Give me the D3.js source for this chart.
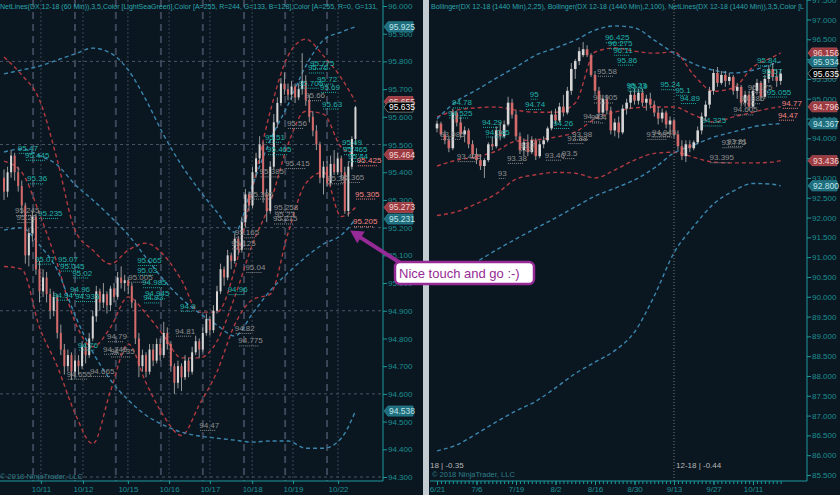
<!DOCTYPE html>
<html><head><meta charset="utf-8">
<script src="https://cdn.jsdelivr.net/npm/d3@7"></script>
<style>
html,body{margin:0;padding:0;background:#0a1620;overflow:hidden;}
svg{display:block;}
text{font-family:"Liberation Sans",Arial,sans-serif;}
</style></head><body>
<svg id="chart" width="840" height="495"></svg>
<script>
// ---------------- DATA ----------------
// Left panel: DX 12-18 (60 Min) candles [open, high, low, close]
const leftCandles = [
[95.38,95.41,95.30,95.33],[95.33,95.42,95.31,95.40],[95.40,95.48,95.38,95.46],[95.46,95.47,95.37,95.40],[95.40,95.42,95.33,95.35],
[95.35,95.37,95.25,95.28],[95.28,95.29,95.07,95.10],[95.10,95.20,95.06,95.18],[95.18,95.26,95.15,95.24],[95.24,95.25,95.03,95.05],
[95.05,95.08,94.93,94.97],[94.97,95.05,94.95,95.02],[95.02,95.04,94.93,94.96],[94.96,94.98,94.87,94.90],[94.90,94.97,94.88,94.95],
[94.95,94.96,94.80,94.82],[94.82,94.85,94.74,94.76],[94.76,94.78,94.67,94.70],[94.70,94.76,94.68,94.74],[94.74,94.75,94.65,94.68],
[94.68,94.74,94.66,94.72],[94.72,94.74,94.67,94.70],[94.70,94.79,94.69,94.77],[94.77,94.78,94.71,94.74],[94.74,94.82,94.73,94.80],
[94.80,94.90,94.79,94.88],[94.88,94.99,94.86,94.97],[94.97,94.98,94.90,94.93],[94.93,95.00,94.91,94.96],[94.96,94.97,94.89,94.92],
[94.92,94.99,94.90,94.98],[94.98,95.00,94.93,94.95],[94.95,95.04,94.94,95.02],[95.02,95.06,94.98,95.00],[95.00,95.03,94.97,95.01],
[95.01,95.02,94.96,94.99],[94.99,95.00,94.91,94.93],[94.93,94.94,94.78,94.80],[94.80,94.82,94.66,94.70],[94.70,94.76,94.68,94.74],
[94.74,94.75,94.66,94.68],[94.68,94.78,94.67,94.76],[94.76,94.78,94.70,94.72],[94.72,94.80,94.71,94.78],[94.78,94.80,94.72,94.74],
[94.74,94.86,94.73,94.82],[94.82,94.84,94.76,94.78],[94.78,94.79,94.68,94.70],[94.70,94.71,94.60,94.64],[94.64,94.72,94.62,94.70],
[94.70,94.71,94.61,94.66],[94.66,94.74,94.65,94.72],[94.72,94.73,94.66,94.68],[94.68,94.77,94.67,94.75],[94.75,94.81,94.74,94.79],
[94.79,94.80,94.73,94.76],[94.76,94.84,94.75,94.82],[94.82,94.89,94.81,94.87],[94.87,94.88,94.81,94.83],[94.83,94.92,94.82,94.90],
[94.90,94.99,94.89,94.97],[94.97,95.07,94.96,95.05],[95.05,95.06,94.99,95.02],[95.02,95.12,95.01,95.10],[95.10,95.11,95.05,95.08],
[95.08,95.18,95.07,95.16],[95.16,95.17,95.10,95.12],[95.12,95.24,95.11,95.22],[95.22,95.34,95.20,95.32],[95.32,95.33,95.26,95.28],
[95.28,95.42,95.27,95.40],[95.40,95.47,95.38,95.45],[95.45,95.53,95.43,95.50],[95.50,95.51,95.29,95.32],[95.32,95.34,95.22,95.26],
[95.26,95.44,95.25,95.42],[95.42,95.61,95.41,95.58],[95.58,95.67,95.56,95.65],[95.65,95.74,95.64,95.72],[95.72,95.76,95.68,95.70],
[95.70,95.72,95.66,95.68],[95.68,95.73,95.66,95.71],[95.71,95.72,95.65,95.67],[95.67,95.72,95.66,95.70],[95.70,95.83,95.68,95.73],
[95.73,95.75,95.64,95.66],[95.66,95.68,95.58,95.60],[95.60,95.62,95.53,95.55],[95.55,95.57,95.48,95.50],[95.50,95.51,95.36,95.38],
[95.38,95.44,95.32,95.42],[95.42,95.44,95.35,95.36],[95.36,95.46,95.35,95.43],[95.43,95.48,95.39,95.40],[95.40,95.47,95.39,95.45],
[95.45,95.46,95.38,95.40],[95.40,95.42,95.25,95.26],[95.26,95.44,95.24,95.42],[95.42,95.53,95.41,95.52],[95.52,95.64,95.50,95.635]
];
const leftBandIdx   = [0,5,10,15,20,25,30,35,40,45,50,55,60,65,70,75,80,85,90,95,99];
const leftRedUpper  = [95.816,95.751,95.661,95.444,95.191,95.119,95.069,95.119,95.144,95.101,95.011,94.895,94.895,95.050,95.340,95.620,95.820,95.880,95.820,95.740,95.655];
const leftRedMid    = [95.440,95.400,95.250,95.070,94.860,94.770,94.840,94.950,94.890,94.810,94.730,94.730,94.790,94.950,95.140,95.290,95.500,95.620,95.610,95.490,95.464];
const leftRedLower  = [95.060,95.050,94.840,94.700,94.530,94.420,94.610,94.780,94.640,94.520,94.450,94.560,94.680,94.850,94.940,94.960,95.180,95.360,95.400,95.240,95.273];
const leftBlueUpper = [95.755,95.769,95.783,95.805,95.827,95.848,95.830,95.769,95.661,95.534,95.426,95.336,95.256,95.184,95.354,95.516,95.643,95.783,95.877,95.906,95.925];
const leftBlueMid   = [95.473,95.484,95.460,95.426,95.356,95.300,95.240,95.174,95.092,95.011,94.944,94.892,94.848,94.809,94.890,94.973,95.037,95.094,95.141,95.173,95.231];
const leftBlueLower = [95.191,95.199,95.137,95.047,94.884,94.751,94.650,94.578,94.523,94.487,94.462,94.448,94.440,94.433,94.426,94.430,94.430,94.404,94.404,94.440,94.538];
const leftSessionBreaks = [8.2,20,31.5,44.2,56,67.6,79.2,91];
const leftDayIdx    = [10.4,22.25,34.9,46.5,58,69.9,81.4,94.1];
const leftDayLabels = ["10/11","10/12","10/15","10/16","10/17","10/18","10/19","10/22"];
const leftGridPrices = [95.8,95.5,95.2,94.9,94.6,94.3];
const leftLabels = [
[3.9,"95.47","t"],[5.9,"95.445","t"],[6.5,"95.36","t"],[9.6,"95.235","t"],[3.1,"95.245","g"],[3.5,"95.22","g"],
[8.7,"95.07","t"],[15.2,"95.07","t"],[15.8,"95.045","t"],[19.2,"95.02","t"],[18.6,"94.96","t"],[20,"94.935","t"],[13.8,"94.94","t"],
[37.5,"95.065","t"],[37.5,"95.03","t"],[35,"95.005","g"],[38.9,"94.985","t"],[39.7,"94.945","t"],[39.2,"94.93","t"],
[49.6,"94.9","t"],[48.2,"94.81","g"],[29,"94.79","g"],[27.9,"94.745","g"],[29.9,"94.735","g"],[20.8,"94.76","t"],[24.2,"94.665","g"],[17.7,"94.655","g"],
[55,"94.47","g"],[64,"95.125","g"],[68,"95.04","g"],[63,"94.96","t"],[65,"94.82","g"],[66,"94.775","g"],
[86.2,"95.775","t"],[85.6,"95.76","t"],[88.2,"95.72","t"],[89,"95.69","t"],[83,"95.705","t"],[84.8,"95.66","g"],[89.6,"95.63","t"],
[79.7,"95.56","g"],[73.5,"95.51","t"],[74.1,"95.465","t"],[79.2,"95.415","g"],[72,"95.385","g"],[69,"95.305","g"],[76,"95.258","g"],
[76.3,"95.23","g"],[75.8,"95.215","g"],[65,"95.165","g"],[95.2,"95.49","t"],[95.5,"95.465","t"],[96.9,"95.44","t"],[99.4,"95.425","s"],
[94.6,"95.365","g"],[91,"95.36","g"],[98.9,"95.305","s"],[98.3,"95.205","s"]
];
const leftTagPrices = [95.925,95.655,95.464,95.273,95.231,94.538,95.635];
const leftTagKinds  = ["b","r","r","r","b","b","k"];

// Right panel: DX 12-18 (1440 Min) daily candles [open, high, low, close]
const rightCandles = [
[94.25,94.45,94.15,94.37],[94.37,94.42,94.05,94.10],[94.10,94.20,93.85,93.95],[93.95,94.05,93.65,93.75],[93.75,94.75,93.70,94.65],
[94.65,94.70,94.30,94.40],[94.40,94.55,94.00,94.10],[94.10,94.30,93.90,94.20],[94.20,94.25,93.75,93.85],[93.85,93.95,93.50,93.60],
[93.60,93.75,93.35,93.45],[93.45,93.60,93.20,93.30],[93.30,93.50,93.00,93.45],[93.45,93.90,93.40,93.85],[93.85,94.05,93.70,93.80],
[93.80,94.30,93.75,94.20],[94.20,94.40,93.95,94.05],[94.05,94.45,94.00,94.35],[94.35,95.05,94.30,94.90],[94.90,95.00,94.50,94.60],
[94.60,94.70,93.95,94.05],[94.05,94.15,93.60,93.70],[93.70,94.00,93.55,93.90],[93.90,94.10,93.55,93.65],[93.65,94.05,93.60,93.95],
[93.95,94.00,93.45,93.55],[93.55,93.95,93.50,93.85],[93.85,94.05,93.75,93.95],[93.95,94.30,93.90,94.25],[94.25,94.70,94.20,94.60],
[94.60,94.75,94.35,94.45],[94.45,94.90,94.40,94.80],[94.80,95.10,94.55,94.65],[94.65,95.30,94.60,95.20],[95.20,95.90,95.10,95.75],
[95.75,96.00,95.50,95.95],[95.95,96.30,95.85,96.20],[96.10,96.43,96.05,96.25],[96.25,96.35,96.05,96.10],[96.10,96.15,95.55,95.60],
[95.60,95.70,95.10,95.20],[95.20,95.30,94.55,94.65],[94.65,95.10,94.55,95.00],[95.00,95.10,94.60,94.70],[94.70,94.80,94.10,94.20],
[94.20,94.50,94.05,94.40],[94.40,94.55,94.00,94.15],[94.15,94.85,94.10,94.75],[94.75,95.00,94.60,94.90],[94.90,95.20,94.75,95.10],
[95.10,95.25,94.85,94.95],[94.95,95.25,94.85,95.15],[95.15,95.25,94.80,94.90],[94.90,95.10,94.70,95.00],[95.00,95.15,94.75,94.85],
[94.85,94.95,94.55,94.65],[94.65,94.80,94.35,94.50],[94.50,94.75,94.40,94.65],[94.65,94.70,94.25,94.35],[94.35,94.55,94.15,94.45],
[94.45,94.50,94.00,94.10],[94.10,94.20,93.70,93.80],[93.80,93.95,93.45,93.55],[93.55,93.95,93.40,93.85],[93.85,93.95,93.65,93.75],
[93.75,93.95,93.70,93.90],[93.90,94.30,93.85,94.20],[94.20,94.65,94.10,94.55],[94.55,94.95,94.45,94.85],[94.85,95.30,94.75,95.20],
[95.20,95.75,95.10,95.65],[95.65,95.80,95.30,95.40],[95.40,95.70,95.35,95.60],[95.60,95.70,95.30,95.45],[95.45,95.65,95.35,95.55],
[95.55,95.60,95.10,95.20],[95.20,95.40,95.00,95.30],[95.30,95.35,94.80,94.90],[94.90,95.20,94.80,95.10],[95.10,95.20,94.70,94.80],
[94.80,95.30,94.75,95.20],[95.20,95.50,95.10,95.40],[95.40,95.45,94.95,95.05],[95.05,95.60,95.00,95.50],[95.50,95.85,95.40,95.75],
[95.75,95.90,95.45,95.55],[95.55,95.75,95.30,95.45],[95.45,95.75,95.35,95.635]
];
const rightBandIdx   = [0,5,10,15,20,25,30,35,40,45,50,55,60,65,70,75,80,85,87];
const rightBlueUpper = [94.49,94.94,95.22,95.52,95.80,96.10,96.28,96.48,96.73,96.84,96.79,96.48,96.15,95.88,95.72,95.65,95.72,95.88,95.934];
const rightBlueMid   = [90.30,90.60,90.88,91.18,91.46,91.73,91.99,92.27,92.54,92.74,92.95,93.25,93.63,93.83,94.03,94.16,94.29,94.36,94.367];
const rightBlueLower = [86.11,86.26,86.54,86.84,87.12,87.36,87.70,88.06,88.35,88.64,89.11,90.02,91.11,91.78,92.34,92.67,92.86,92.84,92.80];
const rightRedUpper  = [94.54,94.71,94.77,94.79,94.71,94.66,94.66,94.89,96.18,96.28,96.20,96.15,96.18,95.60,95.19,95.27,95.80,96.05,96.156];
const rightRedMid    = [93.30,93.45,93.53,93.68,93.93,93.96,94.03,94.16,94.49,94.66,94.77,94.79,94.79,94.59,94.41,94.54,94.66,94.77,94.796];
const rightRedLower  = [92.05,92.15,92.35,92.60,92.97,93.08,93.14,93.12,93.00,93.20,93.45,93.62,93.65,93.52,93.40,93.38,93.38,93.40,93.436];
const rightDateIdx    = [0,10,20,30,40,50,60,70,80];
const rightDateLabels = ["6/21","7/6","7/19","8/2","8/16","8/30","9/13","9/27","10/11"];
const rightMarkerIdx  = 60;
const rightLabels = [
[42.5,"96.425","t"],[43.3,"96.275","t"],[44.6,"96.11","t"],[45.6,"95.86","t"],[40.5,"95.58","g"],[48,"95.23","t"],[48.3,"95.19","t"],
[56.5,"95.24","t"],[60.3,"95.1","t"],[61.5,"94.89","t"],[39.5,"94.905","g"],[37,"94.43","g"],[39,"94.4","g"],[3.8,"94.78","t"],
[2.8,"94.525","t"],[23.5,"95","t"],[22.3,"94.74","t"],[11.4,"94.29","t"],[12.2,"94.045","t"],[29.4,"94.26","t"],[0.8,"93.985","g"],
[34.2,"93.98","g"],[33,"93.88","g"],[21,"93.7","g"],[5,"93.425","g"],[17.7,"93.38","g"],[27.3,"93.46","g"],[31.6,"93.5","g"],
[15.4,"93","g"],[54.4,"94.045","g"],[53,"93.985","g"],[73.4,"93.81","g"],[72,"93.775","g"],[69,"93.395","g"],[67,"94.325","t"],
[76.7,"94.885","g"],[75,"94.605","g"],[78.7,"95.175","g"],[81,"95.84","t"],[82.3,"95.57","t"],[83.5,"95.055","t"],[87.3,"94.77","s"],[86.3,"94.47","s"]
];
const rightTagPrices = [96.156,95.934,94.796,94.367,93.436,92.800,95.635];
const rightTagKinds  = ["r","b","r","b","r","b","k"];

// ---------------- DRAW ----------------
const svg = d3.select("#chart");
const C = {
  bg:"#0a1620", teal:"#1c9a9c", tealText:"#1b8f92", header:"#2aa6ad",
  up:"#d6d6d6", down:"#d46a6a", wick:"#9a9a9a",
  red:"#b23a40", blue:"#3a86ad",
  lblT:"#20b2aa", lblG:"#8e8e8e", lblS:"#f48580"
};
svg.append("rect").attr("width",840).attr("height",495).attr("fill",C.bg);

const defs = svg.append("defs");
defs.append("clipPath").attr("id","clipL").append("rect").attr("x",0).attr("y",0).attr("width",383).attr("height",481);
defs.append("clipPath").attr("id","clipR").append("rect").attr("x",430).attr("y",0).attr("width",377).attr("height",481);

function drawPanel(o){
  const g = svg.append("g");
  const plot = g.append("g").attr("clip-path",`url(#${o.clip})`);
  const bands = [[o.redUpper,C.red],[o.redMid,C.red],[o.redLower,C.red],[o.blueUpper,C.blue],[o.blueMid,C.blue],[o.blueLower,C.blue]];
  const line = d3.line().x(d=>o.x(d[0])).y(d=>o.y(d[1])).curve(d3.curveMonotoneX);
  bands.forEach(([vals,col])=>{
    plot.append("path").datum(o.bandIdx.map((b,i)=>[b,vals[i]]))
      .attr("d",line).attr("fill","none").attr("stroke",col).attr("stroke-width",1.4)
      .attr("stroke-dasharray","4,3");
  });
  const cg = plot.append("g");
  o.candles.forEach((c,i)=>{
    const [op,hi,lo,cl]=c; const up = cl>=op;
    const x = o.x(i);
    cg.append("line").attr("x1",x).attr("x2",x).attr("y1",o.y(hi)).attr("y2",o.y(lo))
      .attr("stroke",C.wick).attr("stroke-width",1);
    const y1=o.y(Math.max(op,cl)), y2=o.y(Math.min(op,cl));
    cg.append("rect").attr("x",x-o.bw/2).attr("y",y1).attr("width",o.bw).attr("height",Math.max(1,y2-y1))
      .attr("fill",up?C.up:C.down);
  });
  const lg = plot.append("g").attr("font-size",8);
  o.labels.forEach(([idx,txt,k])=>{
    const col = k==="t"?C.lblT:(k==="s"?C.lblS:C.lblG);
    const p = parseFloat(txt), x=o.x(idx), y=o.y(p);
    const t = lg.append("text").attr("x",x).attr("y",y-2).attr("fill",col).text(txt);
    const w = t.node().getComputedTextLength();
    lg.append("line").attr("x1",x+1).attr("x2",x+w*0.85).attr("y1",y+0.5).attr("y2",y+0.5)
      .attr("stroke",col).attr("stroke-width",1).attr("stroke-dasharray","1,1");
  });
  return {g,plot};
}

// ----- LEFT PANEL -----
const xL = d3.scaleLinear().domain([0,99]).range([4,355.45]);
const yL = d3.scaleLinear().domain([94.3,96.0]).range([477,6]);
const Lg = svg.append("g");
leftGridPrices.forEach(p=>{
  Lg.append("line").attr("x1",0).attr("x2",383).attr("y1",yL(p)).attr("y2",yL(p))
    .attr("stroke","#4c5466").attr("stroke-width",1).attr("stroke-dasharray","3,3");
});
leftSessionBreaks.forEach(b=>{
  Lg.append("line").attr("x1",xL(b)).attr("x2",xL(b)).attr("y1",0).attr("y2",481)
    .attr("stroke","#3d4658").attr("stroke-width",2).attr("stroke-dasharray","7,5");
});
leftDayIdx.forEach(b=>{
  Lg.append("line").attr("x1",xL(b)).attr("x2",xL(b)).attr("y1",0).attr("y2",481)
    .attr("stroke","#3a4658").attr("stroke-width",1).attr("stroke-dasharray","2,2");
});
drawPanel({x:xL,y:yL,clip:"clipL",candles:leftCandles,bw:2,bandIdx:leftBandIdx,
  redUpper:leftRedUpper,redMid:leftRedMid,redLower:leftRedLower,
  blueUpper:leftBlueUpper,blueMid:leftBlueMid,blueLower:leftBlueLower,labels:leftLabels});

// ----- RIGHT PANEL -----
const xR = d3.scaleLinear().domain([0,87]).range([437,780.65]);
const yR = d3.scaleLinear().domain([85.5,97.0]).range([475,19.5]);
svg.append("line").attr("x1",xR(rightMarkerIdx)).attr("x2",xR(rightMarkerIdx)).attr("y1",0).attr("y2",481)
  .attr("stroke","#777").attr("stroke-width",1).attr("stroke-dasharray","1,2");
drawPanel({x:xR,y:yR,clip:"clipR",candles:rightCandles,bw:2.6,bandIdx:rightBandIdx,
  redUpper:rightRedUpper,redMid:rightRedMid,redLower:rightRedLower,
  blueUpper:rightBlueUpper,blueMid:rightBlueMid,blueLower:rightBlueLower,labels:rightLabels});

svg.append("rect").attr("x",423).attr("y",0).attr("width",6).attr("height",495).attr("fill","#c3ccd1");

// ----- AXES -----
function styleAxis(sel){
  sel.selectAll("path.domain").remove();
  sel.selectAll("line").attr("stroke",C.teal);
  sel.selectAll("text").attr("fill",C.tealText).attr("font-size",8)
     .attr("font-family","'Liberation Sans',Arial,sans-serif");
}
const axL = svg.append("g").attr("transform","translate(383,0)")
  .call(d3.axisRight(yL).tickValues(d3.range(0,18).map(i=>94.3+i*0.1)).tickFormat(d3.format(".3f")).tickSize(4).tickPadding(1));
styleAxis(axL);
svg.append("line").attr("x1",383).attr("x2",383).attr("y1",0).attr("y2",481).attr("stroke",C.teal);
const axR = svg.append("g").attr("transform","translate(807,0)")
  .call(d3.axisRight(yR).tickValues(d3.range(0,25).map(i=>85.5+i*0.5)).tickFormat(d3.format(".3f")).tickSize(4).tickPadding(1));
styleAxis(axR);
svg.append("line").attr("x1",807).attr("x2",807).attr("y1",0).attr("y2",481).attr("stroke",C.teal);
svg.append("line").attr("x1",0).attr("x2",383).attr("y1",481).attr("y2",481).attr("stroke",C.teal);
const bxL = svg.append("g").attr("transform","translate(0,481)")
  .call(d3.axisBottom(xL).tickValues(leftDayIdx).tickFormat((d,i)=>leftDayLabels[i]).tickSize(3).tickPadding(2));
styleAxis(bxL);
svg.append("line").attr("x1",430).attr("x2",807).attr("y1",481).attr("y2",481).attr("stroke",C.teal);
const bxR0 = svg.append("g").attr("transform","translate(0,481)")
  .call(d3.axisBottom(xR).tickValues(d3.range(0,88)).tickFormat("").tickSize(3));
styleAxis(bxR0);
const bxR = svg.append("g").attr("transform","translate(0,481)")
  .call(d3.axisBottom(xR).tickValues(rightDateIdx).tickFormat((d,i)=>rightDateLabels[i]).tickSize(4).tickPadding(1));
styleAxis(bxR);

// ----- PRICE TAGS -----
function drawTags(ax, yS, prices, kinds){
  prices.forEach((p,i)=>{
    const k=kinds[i], y=yS(p);
    const fill = k==="r"?"#9b3a40":(k==="b"?"#1f6c7c":"#000");
    const stroke = k==="k"?"#7a8a8a":(k==="r"?"#b8545a":"#2b8898");
    const tc = k==="r"?"#f4d4d4":(k==="b"?"#bfe6ea":"#ffffff");
    const pts = [[ax+1,y],[ax+5,y-5],[ax+30,y-5],[ax+30,y+5],[ax+5,y+5]];
    svg.append("path").attr("d","M"+pts.map(q=>q.join(",")).join("L")+"Z")
      .attr("fill",fill).attr("stroke",stroke).attr("stroke-width",0.8);
    svg.append("text").attr("x",ax+6).attr("y",y+3).attr("fill",tc).attr("font-size",8.5).text(p.toFixed(3));
  });
}
drawTags(383,yL,leftTagPrices,leftTagKinds);
drawTags(807,yR,rightTagPrices,rightTagKinds);

// ----- HEADERS & TEXTS -----
svg.append("text").attr("x",0).attr("y",9).attr("fill",C.header).attr("font-size",7.8)
  .attr("textLength",378).attr("lengthAdjust","spacingAndGlyphs")
  .text("NetLines(DX 12-18 (60 Min)),3,5,Color [LightSeaGreen],Color [A=255, R=244, G=133, B=128],Color [A=255, R=0, G=131,");
svg.append("text").attr("x",431).attr("y",9).attr("fill",C.header).attr("font-size",7.8)
  .attr("textLength",373).attr("lengthAdjust","spacingAndGlyphs")
  .text("Bollinger(DX 12-18 (1440 Min),2,25), Bollinger(DX 12-18 (1440 Min),2,100), NetLines(DX 12-18 (1440 Min)),3,5,Color [L");
svg.append("text").attr("x",0).attr("y",479).attr("fill","#2f7e88").attr("font-size",7.5).text("© 2018 NinjaTrader, LLC");
svg.append("text").attr("x",432).attr("y",477).attr("fill","#2f7e88").attr("font-size",7.5).text("© 2018 NinjaTrader, LLC");
svg.append("text").attr("x",430).attr("y",468).attr("fill","#b8b8b8").attr("font-size",8).text("18 | -0.35");
svg.append("text").attr("x",xR(rightMarkerIdx)+2).attr("y",468).attr("fill","#b8b8b8").attr("font-size",8).text("12-18 | -0.44");

// ----- ANNOTATION -----
const purple = "#962a96";
const ann = svg.append("g");
const tip = [xL(97.5), yL(95.19)];
ann.append("line").attr("x1",402).attr("y1",264).attr("x2",tip[0]+7).attr("y2",tip[1]+5)
  .attr("stroke",purple).attr("stroke-width",4).attr("stroke-linecap","round");
const ang = Math.atan2(264-tip[1], 402-tip[0]);
const ah = 13, aw = 7;
const bx = tip[0]+Math.cos(ang)*ah, by = tip[1]+Math.sin(ang)*ah;
ann.append("path").attr("d",`M${tip[0]},${tip[1]}L${bx-Math.sin(ang)*aw},${by+Math.cos(ang)*aw}L${bx+Math.sin(ang)*aw},${by-Math.cos(ang)*aw}Z`)
  .attr("fill",purple);
ann.append("rect").attr("x",395).attr("y",262).attr("width",139).attr("height",22).attr("rx",5)
  .attr("fill","#ffffff").attr("stroke",purple).attr("stroke-width",2.5);
ann.append("text").attr("x",399).attr("y",278).attr("fill",purple).attr("font-size",13)
  .text("Nice touch and go :-)");
</script>
</body></html>
